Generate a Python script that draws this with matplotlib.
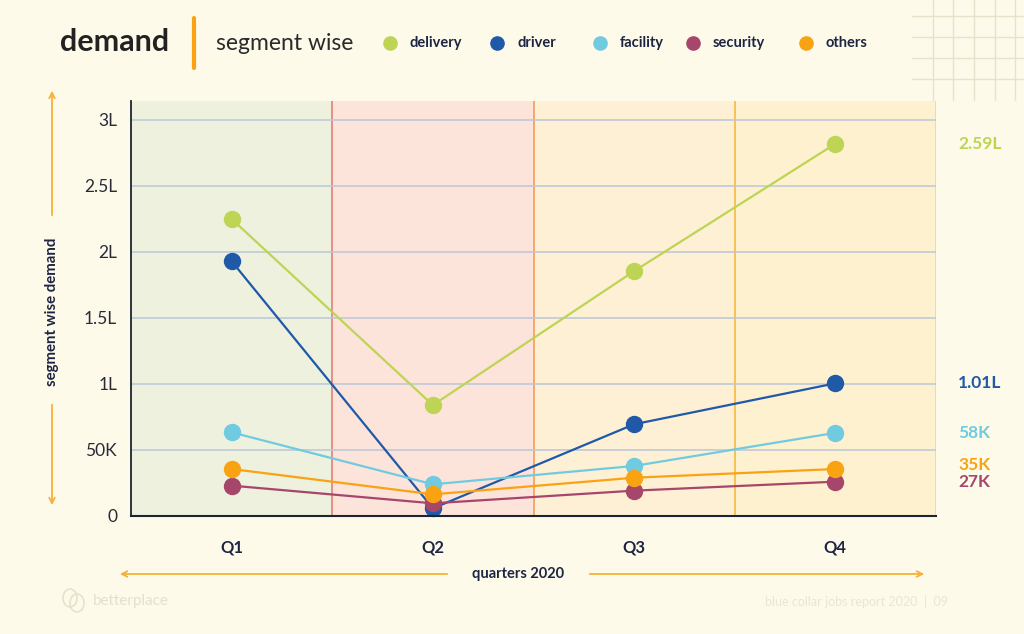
import matplotlib
matplotlib.use("Agg")
import matplotlib.pyplot as plt
from matplotlib.patches import FancyArrowPatch, Ellipse
from matplotlib.lines import Line2D

plt.rcParams['font.family'] = ['Lato', 'DejaVu Sans']

quarters = ["Q1", "Q2", "Q3", "Q4"]
series_names = ["delivery", "driver", "facility", "security", "others"]
delivery = [2.25, 0.84, 1.855, 2.82]
driver = [1.93, 0.058, 0.695, 1.005]
facility = [0.634, 0.24, 0.379, 0.63]
security = [0.23, 0.096, 0.192, 0.26]
others = [0.356, 0.164, 0.29, 0.356]
end_labels = ["2.59L", "1.01L", "58K", "27K", "35K"]
yticks = [0, 0.5, 1, 1.5, 2, 2.5, 3]
ytick_labels = ["0", "50K", "1L", "1.5L", "2L", "2.5L", "3L"]

colors = {"delivery": "#BED454", "driver": "#1F59A8", "facility": "#70CBE0",
          "security": "#A6466A", "others": "#F9A313"}
values = {"delivery": delivery, "driver": driver, "facility": facility,
          "security": security, "others": others}
label_nudge_px = {"delivery": 0, "driver": 0, "facility": 0, "security": 0, "others": 4}
band_colors = ["#EDF1DE", "#FDE4DA", "#FEF0D5", "#FEF1D0"]
sep_colors = ["#E3897C", "#F5A267", "#F8BE4C", "#F9DE6E"]
navy = "#1D2542"
bg = "#FDFAEA"

fig = plt.figure(figsize=(10.24, 6.34), dpi=100, facecolor=bg)
ax = fig.add_axes([131/1024, 1-516/634, 805/1024, 415/634])
ax.set_facecolor(bg)
ax.set_xlim(-0.5, 3.5)
ax.set_ylim(0, 415/132)

x = list(range(len(quarters)))
for i in x:
    ax.axvspan(i-0.5, i+0.5, color=band_colors[i], zorder=0, lw=0)
    ax.axvline(i+0.5, color=sep_colors[i], lw=1.3, zorder=1)
for t in yticks[1:]:
    ax.axhline(t, color="#BBC6D8", lw=1.1, zorder=1)

draw_order = ["driver", "delivery", "security", "facility", "others"]
for k, name in enumerate(draw_order):
    ax.plot(x, values[name], color=colors[name], lw=1.6, marker='o', ms=11.5,
            zorder=3+k, clip_on=False)

ax.set_yticks(yticks)
ax.set_yticklabels(ytick_labels, fontsize=12.5, color="#2A2A36")
ax.set_xticks(x)
ax.set_xticklabels(quarters, fontsize=12, fontweight='bold', color=navy)
ax.tick_params(axis='y', length=0, pad=10)
ax.tick_params(axis='x', length=0, pad=17)
for s in ["top", "right"]:
    ax.spines[s].set_visible(False)
ax.spines["left"].set_color("#1E2433")
ax.spines["bottom"].set_color("#1E2433")
ax.spines["left"].set_linewidth(1.3)
ax.spines["bottom"].set_linewidth(1.5)
ax.spines["left"].set_zorder(10)
ax.spines["bottom"].set_zorder(10)

# end labels (offset in pixels -> points)
label_order = ["delivery", "driver", "facility", "security", "others"]
for name, lab in zip(label_order, end_labels):
    yv = values[name][-1]
    ax.annotate(lab, xy=(3, yv), xycoords='data',
                xytext=(123*0.72, label_nudge_px[name]*0.72),
                textcoords='offset points', fontsize=12.5, fontweight='bold',
                color=colors[name], va='center', ha='left', annotation_clip=False)

# header
fig.text(60/1024, 1-42/634, "demand", fontsize=22, fontweight='bold', color="#222222", va='center')
fig.add_artist(Line2D([194/1024, 194/1024], [1-18/634, 1-68/634], color="#F9A313", lw=3,
                      solid_capstyle='round'))
fig.text(216/1024, 1-43/634, "segment wise", fontsize=16.5, color="#2A2A2A", va='center')
leg_x = [390, 497, 600, 693, 806]
for name, lx in zip(series_names, leg_x):
    fig.add_artist(Line2D([lx/1024], [1-43/634], marker='o', ms=9.5, color=colors[name], lw=0))
    fig.text((lx+20)/1024, 1-43/634, name, fontsize=10.5, fontweight='bold', color=navy, va='center')

# corner grid
for gx in [933, 953, 974, 995, 1015]:
    fig.add_artist(Line2D([gx/1024, gx/1024], [1, 1-100/634], color="#E6E2CC", lw=1))
for gy in [16, 37, 58, 79]:
    fig.add_artist(Line2D([912/1024, 1], [1-gy/634, 1-gy/634], color="#E6E2CC", lw=1))

# axis titles with arrows
orange = "#F7B13A"
fig.text(518/1024, 1-574/634, "quarters 2020", fontsize=10.5, fontweight='bold', color=navy,
         ha='center', va='center')
fig.add_artist(FancyArrowPatch((450/1024, 1-574/634), (117/1024, 1-574/634), arrowstyle='->',
                               mutation_scale=10, color=orange, lw=1.3, transform=fig.transFigure))
fig.add_artist(FancyArrowPatch((587/1024, 1-574/634), (927/1024, 1-574/634), arrowstyle='->',
                               mutation_scale=10, color=orange, lw=1.3, transform=fig.transFigure))
fig.text(52/1024, 1-312/634, "segment wise demand", fontsize=10.8, fontweight='bold', color=navy,
         ha='center', va='center', rotation=90)
fig.add_artist(FancyArrowPatch((52/1024, 1-218/634), (52/1024, 1-88/634), arrowstyle='->',
                               mutation_scale=10, color=orange, lw=1.3, transform=fig.transFigure))
fig.add_artist(FancyArrowPatch((52/1024, 1-402/634), (52/1024, 1-508/634), arrowstyle='->',
                               mutation_scale=10, color=orange, lw=1.3, transform=fig.transFigure))

# footer
fig.add_artist(Ellipse((70/1024, 1-598/634), 14/1024, 18/634, fill=False, ec="#E6E2CE", lw=1.2,
                       transform=fig.transFigure))
fig.add_artist(Ellipse((77/1024, 1-603/634), 14/1024, 18/634, fill=False, ec="#E6E2CE", lw=1.2,
                       transform=fig.transFigure))
fig.text(93/1024, 1-601/634, "betterplace", fontsize=11, color="#E4E0CC", va='center')
fig.text(948/1024, 1-601/634, "blue collar jobs report 2020  |  09", fontsize=9, color="#EAE6D2",
         va='center', ha='right')

fig.savefig("out.png", dpi=100, facecolor=bg)
